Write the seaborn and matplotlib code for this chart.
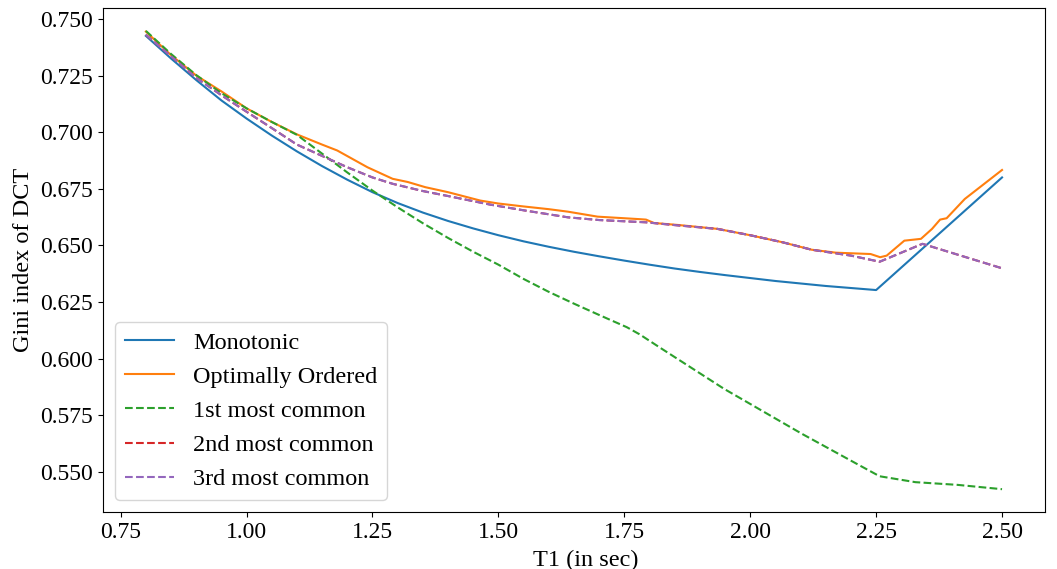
import matplotlib
matplotlib.use("Agg")
import matplotlib.pyplot as plt
import seaborn as sns
import pandas as pd

# ---------------- data ----------------
mono_t1 = [0.80, 0.85, 0.90, 0.95, 1.00, 1.05, 1.10, 1.15, 1.20, 1.25, 1.30, 1.35,
           1.40, 1.45, 1.50, 1.55, 1.60, 1.65, 1.70, 1.75, 1.80, 1.85, 1.90, 1.95,
           2.00, 2.05, 2.10, 2.15, 2.20, 2.25, 2.50]
mono_gini = [0.7425, 0.7325, 0.7230, 0.7140, 0.7060, 0.6985, 0.6915, 0.6850, 0.6790,
             0.6735, 0.6687, 0.6645, 0.6608, 0.6575, 0.6545, 0.6518, 0.6494, 0.6472,
             0.6452, 0.6433, 0.6415, 0.6398, 0.6383, 0.6369, 0.6356, 0.6343, 0.6332,
             0.6321, 0.6312, 0.6303, 0.6800]

opt_t1 = [0.80, 0.85, 0.90, 0.95, 1.00, 1.05, 1.10, 1.15, 1.18, 1.24, 1.29, 1.32,
          1.355, 1.40, 1.464, 1.50, 1.55, 1.60, 1.638, 1.697, 1.78, 1.793, 1.809,
          1.858, 1.935, 2.00, 2.064, 2.122, 2.17, 2.193, 2.239, 2.258, 2.271, 2.306,
          2.339, 2.361, 2.377, 2.39, 2.426, 2.50]
opt_gini = [0.7444, 0.7340, 0.7250, 0.7180, 0.7105, 0.7045, 0.6990, 0.6945, 0.6919,
            0.6845, 0.6794, 0.6780, 0.6757, 0.6735, 0.6698, 0.6685, 0.6672, 0.6660,
            0.6649, 0.6627, 0.6616, 0.6614, 0.6599, 0.6590, 0.6573, 0.6545, 0.6514,
            0.6481, 0.6468, 0.6466, 0.6462, 0.6448, 0.6455, 0.6521, 0.6529, 0.6573,
            0.6614, 0.6620, 0.6705, 0.6833]

first_t1 = [0.80, 0.85, 0.90, 0.95, 1.00, 1.05, 1.10, 1.15, 1.20, 1.25, 1.30, 1.35,
            1.40, 1.45, 1.50, 1.55, 1.60, 1.65, 1.70, 1.755, 1.78, 1.82, 1.948, 2.103,
            2.218, 2.257, 2.328, 2.412, 2.50]
first_gini = [0.7447, 0.7345, 0.7252, 0.7172, 0.7105, 0.7045, 0.6988, 0.6905, 0.6822,
              0.6742, 0.6668, 0.6598, 0.6533, 0.6472, 0.6415, 0.6352, 0.6295, 0.6243,
              0.6193, 0.6139, 0.6108, 0.6050, 0.5867, 0.5668, 0.5528, 0.5481, 0.5455,
              0.5443, 0.5424]

second_t1 = [0.80, 0.85, 0.90, 0.95, 1.00, 1.05, 1.10, 1.15, 1.20, 1.25, 1.29, 1.35,
             1.40, 1.484, 1.55, 1.638, 1.70, 1.793, 1.858, 1.935, 2.00, 2.064, 2.122,
             2.20, 2.257, 2.342, 2.50]
second_gini = [0.7430, 0.7335, 0.7240, 0.7163, 0.7090, 0.7018, 0.6945, 0.6895, 0.6845,
               0.6800, 0.6772, 0.6740, 0.6718, 0.6680, 0.6655, 0.6624, 0.6612, 0.6602,
               0.6588, 0.6573, 0.6545, 0.6514, 0.6481, 0.6455, 0.6428, 0.6507, 0.6399]

third_t1 = list(second_t1)
third_gini = list(second_gini)

x_ticks = [0.75, 1.00, 1.25, 1.50, 1.75, 2.00, 2.25, 2.50]
x_labels = ["0.75", "1.00", "1.25", "1.50", "1.75", "2.00", "2.25", "2.50"]
y_ticks = [0.550, 0.575, 0.600, 0.625, 0.650, 0.675, 0.700, 0.725, 0.750]
y_labels = ["0.550", "0.575", "0.600", "0.625", "0.650", "0.675", "0.700", "0.725", "0.750"]

# ---------------- plot ----------------
plt.rcParams["font.family"] = ["Liberation Serif", "DejaVu Serif"]
plt.rcParams["font.size"] = 17

fig = plt.figure(figsize=(10.57, 5.69), dpi=100)
ax = fig.add_axes([0.0975, 0.100, 0.891, 0.886])

series = [
    ("Monotonic", mono_t1, mono_gini, "#1f77b4", "-"),
    ("Optimally Ordered", opt_t1, opt_gini, "#ff7f0e", "-"),
    ("1st most common", first_t1, first_gini, "#2ca02c", "--"),
    ("2nd most common", second_t1, second_gini, "#d62728", "--"),
    ("3rd most common", third_t1, third_gini, "#9467bd", "--"),
]
for name, xs, ys, col, ls in series:
    df = pd.DataFrame({"T1": xs, "gini": ys})
    sns.lineplot(data=df, x="T1", y="gini", ax=ax, color=col, linestyle=ls,
                 linewidth=1.5, label=name, estimator=None)

ax.set_xlabel("T1 (in sec)", fontsize=17.5, labelpad=3)
ax.xaxis.set_label_coords(0.513, -0.075)
ax.set_ylabel("Gini index of DCT", fontsize=17.5, labelpad=5)
ax.set_xticks(x_ticks)
ax.set_xticklabels(x_labels)
ax.set_yticks(y_ticks)
ax.set_yticklabels(y_labels)
ax.tick_params(labelsize=17)
ax.legend(loc="lower left", fontsize=17.5)

fig.savefig("out.png", dpi=100)
